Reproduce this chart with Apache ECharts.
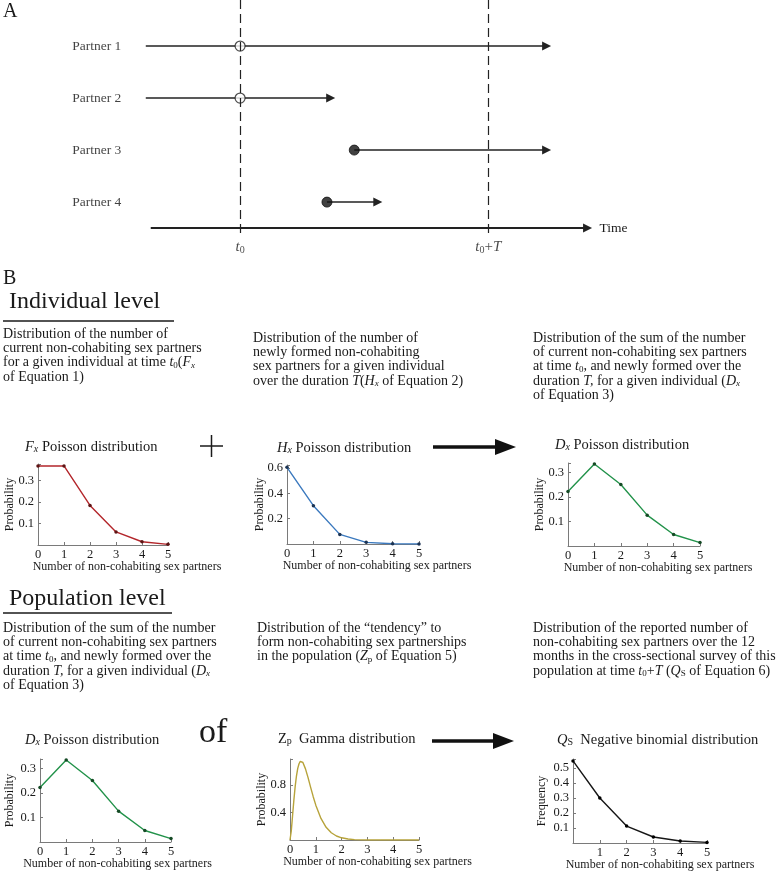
<!DOCTYPE html>
<html><head><meta charset="utf-8">
<script src="https://cdn.jsdelivr.net/npm/echarts@6/dist/echarts.min.js"></script>
<style>html,body{margin:0;padding:0;background:#fff}#c{width:780px;height:872px}</style>
</head><body><div id="c"></div>
<script>
// ---------------- DATA ----------------
const xCounts   = [0, 1, 2, 3, 4, 5];
const fxProb    = [0.368, 0.368, 0.184, 0.061, 0.015, 0.003];
const hxProb    = [0.607, 0.303, 0.076, 0.013, 0.002, 0.000];
const dxProb    = [0.223, 0.335, 0.251, 0.126, 0.047, 0.014];
const qsFreq    = [0.547, 0.300, 0.113, 0.040, 0.013, 0.004];
const zpX       = [0, 0.05, 0.1, 0.15, 0.2, 0.25, 0.3, 0.35, 0.4, 0.45, 0.5, 0.6, 0.7, 0.8, 0.9, 1.0, 1.2, 1.4, 1.6, 1.8, 2.0, 2.25, 2.5, 3.0, 3.5, 4.0, 4.5, 5.0];
const zpDensity = [0, 0.133, 0.356, 0.581, 0.778, 0.932, 1.044, 1.110, 1.147, 1.148, 1.129, 1.036, 0.908, 0.767, 0.631, 0.508, 0.314, 0.185, 0.106, 0.058, 0.032, 0.014, 0.006, 0.001, 0.0002, 0, 0, 0];
// timeline (time in units of T, t0 = 0)
const partnerNames  = ['Partner 1', 'Partner 2', 'Partner 3', 'Partner 4'];
const partnerStart  = [-0.38, -0.38, 0.46, 0.35];
const partnerEnd    = [1.235, 0.365, 1.235, 0.555];
const circleTime    = [0, 0, 0.46, 0.35];
const circleFilled  = [false, false, true, true];
const timeAxisRange = [-0.36, 1.40];
const markTimes     = [0, 1];
const markTickLabels = ['{it|t}{sub|0}', '{it|t}{sub|0}{n|+}{it|T}'];

// ---------------- STYLE ----------------
const SERIF = '"Liberation Serif","Times New Roman",Times,serif';
const INK = '#1a1a1a';
const LH = 14.3;
function richZ(size){
  return {
    it:{fontFamily:SERIF,fontSize:size,fontStyle:'italic',fill:INK,lineHeight:LH},
    sub:{fontFamily:SERIF,fontSize:Math.round(size*0.66),fill:INK,verticalAlign:'bottom',lineHeight:6},
    subit:{fontFamily:SERIF,fontSize:Math.round(size*0.66),fontStyle:'italic',fill:INK,verticalAlign:'bottom',lineHeight:6}
  };
}
const R14 = richZ(14);
function textBlock(x, yTop, str){
  return {type:'text', x:x, y:yTop, silent:true,
    style:{text:str, fontFamily:SERIF, fontSize:14, fill:INK, lineHeight:LH, align:'left', verticalAlign:'top', rich:R14}};
}
function titleText(x, yc, str){
  return {type:'text', x:x, y:yc, silent:true,
    style:{text:str, fontFamily:SERIF, fontSize:14.5, fill:INK, lineHeight:LH, align:'left', verticalAlign:'middle', rich:richZ(14.5)}};
}
function plainText(x, yc, str, size){
  return {type:'text', x:x, y:yc, silent:true,
    style:{text:str, fontFamily:SERIF, fontSize:size, fill:INK, align:'left', verticalAlign:'middle'}};
}
function bigArrow(x1, x2, y){
  return [
    {type:'line', silent:true, shape:{x1:x1, y1:y, x2:x2-18, y2:y}, style:{stroke:'#111', lineWidth:3.5}},
    {type:'polygon', silent:true, shape:{points:[[x2-21,y-8],[x2,y],[x2-21,y+8]]}, style:{fill:'#111'}}
  ];
}

const blocks = [
  textBlock(3, 327, 'Distribution of the number of\ncurrent non-cohabiting sex partners\nfor a given individual at time {it|t}{sub|0}({it|F}{subit|x}\nof Equation 1)'),
  textBlock(253, 331, 'Distribution of the number of\nnewly formed non-cohabiting\nsex partners for a given individual\nover the duration {it|T}({it|H}{subit|x} of Equation 2)'),
  textBlock(533, 331, 'Distribution of the sum of the number\nof current non-cohabiting sex partners\nat time {it|t}{sub|0}, and newly formed over the\nduration {it|T,} for a given individual ({it|D}{subit|x}\nof Equation 3)'),
  textBlock(3, 621, 'Distribution of the sum of the number\nof current non-cohabiting sex partners\nat time {it|t}{sub|0}, and newly formed over the\nduration {it|T,} for a given individual ({it|D}{subit|x}\nof Equation 3)'),
  textBlock(257, 621, 'Distribution of the \u201ctendency\u201d to\nform non-cohabiting sex partnerships\nin the population ({it|Z}{sub|p} of Equation 5)'),
  textBlock(533, 621, 'Distribution of the reported number of\nnon-cohabiting sex partners over the 12\nmonths in the cross-sectional survey of this\npopulation at time {it|t}{sub|0}+{it|T} ({it|Q}{sub|S} of Equation 6)')
];

const graphics = [].concat(
  [plainText(3, 12, 'A', 20), plainText(3, 279, 'B', 20),
   plainText(9, 302, 'Individual level', 24),
   {type:'line', silent:true, shape:{x1:3,y1:321,x2:174,y2:321}, style:{stroke:INK,lineWidth:1.3}},
   plainText(9, 599, 'Population level', 24),
   {type:'line', silent:true, shape:{x1:3,y1:613,x2:172,y2:613}, style:{stroke:INK,lineWidth:1.3}},
   {type:'line', silent:true, shape:{x1:200,y1:446,x2:223,y2:446}, style:{stroke:INK,lineWidth:1.5}},
   {type:'line', silent:true, shape:{x1:211.5,y1:435,x2:211.5,y2:457}, style:{stroke:INK,lineWidth:1.5}},
   plainText(199, 733, 'of', 34),
   titleText(25, 447, '{it|F}{subit|x} Poisson distribution'),
   titleText(277, 448, '{it|H}{subit|x} Poisson distribution'),
   titleText(555, 445, '{it|D}{subit|x} Poisson distribution'),
   titleText(25, 740, '{it|D}{subit|x} Poisson distribution'),
   titleText(278, 739, 'Z{sub|p}  Gamma distribution'),
   titleText(557, 740, '{it|Q}{sub|S}  Negative binomial distribution')
  ],
  blocks,
  bigArrow(433, 516, 447),
  bigArrow(432, 514, 741)
);

// ---------------- SMALL PLOTS ----------------
const plotDefs = [
  {g:[38,464,130,81],  yMax:0.377, yInt:0.1, yName:'Probability', gap:22, xs:xCounts, ys:fxProb,  color:'#b3262b', mark:'#5e1414', shift:24, hideX0:false},
  {g:[287,465,132,79], yMax:0.625, yInt:0.2, yName:'Probability', gap:21, xs:xCounts, ys:hxProb,  color:'#3b79be', mark:'#1b3354', shift:24, hideX0:false},
  {g:[568,463,132,83], yMax:0.339, yInt:0.1, yName:'Probability', gap:22, xs:xCounts, ys:dxProb,  color:'#22924a', mark:'#154a25', shift:24, hideX0:false},
  {g:[40,759,131,83],  yMax:0.339, yInt:0.1, yName:'Probability', gap:24, xs:xCounts, ys:dxProb,  color:'#22924a', mark:'#154a25', shift:12, hideX0:false},
  {g:[290,759,129,81], yMax:1.18,  yInt:0.4, yName:'Probability', gap:22, xs:zpX,     ys:zpDensity, color:'#b7a33b', mark:null,   shift:23, hideX0:false},
  {g:[573,759,134,84], yMax:0.56,  yInt:0.1, yName:'Frequency',   gap:25, xs:xCounts, ys:qsFreq,  color:'#161616', mark:'#000',    shift:20, hideX0:true}
];

function tickFormatter(interval, hideZero){
  return function(v){
    const q = v / interval;
    if (Math.abs(q - Math.round(q)) > 1e-6) return '';
    if (hideZero && Math.abs(v) < 1e-9) return '';
    return String(+v.toFixed(2));
  };
}

const AX = '#7a7a7a';
const grids = [{left:116, top:0, width:546, height:238, containLabel:false, outerBoundsMode:'none'}];
const xAxes = [{type:'value', gridIndex:0, min:-0.5, max:1.7, show:false}];
const yAxes = [{type:'value', gridIndex:0, min:0.115, max:4.69, inverse:true, show:false}];
const series = [];

plotDefs.forEach((p, k) => {
  const gi = k + 1;
  grids.push({left:p.g[0], top:p.g[1], width:p.g[2], height:p.g[3], containLabel:false, outerBoundsMode:'none'});
  xAxes.push({type:'value', gridIndex:gi, min:0, max:5, interval:1,
    name:'Number of non-cohabiting sex partners', nameLocation:'middle', nameGap:16, nameMoveOverlap:false,
    nameTextStyle:{fontFamily:SERIF, fontSize:12, color:INK, padding:[0,0,0,2*p.shift]},
    axisLine:{show:true, onZero:false, lineStyle:{color:AX, width:1}},
    axisTick:{show:true, inside:true, length:3, lineStyle:{color:AX}},
    axisLabel:{fontFamily:SERIF, fontSize:12.5, color:INK, margin:3, showMinLabel:true, showMaxLabel:true,
      formatter: tickFormatter(1, p.hideX0)},
    splitLine:{show:false}});
  yAxes.push({type:'value', gridIndex:gi, min:0, max:p.yMax, interval:p.yInt,
    name:p.yName, nameLocation:'middle', nameGap:p.gap, nameMoveOverlap:false,
    nameTextStyle:{fontFamily:SERIF, fontSize:12, color:INK},
    axisLine:{show:true, onZero:false, lineStyle:{color:AX, width:1}},
    axisTick:{show:true, inside:true, length:3, lineStyle:{color:AX}},
    axisLabel:{fontFamily:SERIF, fontSize:12.5, color:INK, margin:4, formatter: tickFormatter(p.yInt, true)},
    splitLine:{show:false}});
  series.push({type:'line', xAxisIndex:gi, yAxisIndex:gi,
    data: p.xs.map((x, i) => [x, p.ys[i]]),
    smooth:false,
    showSymbol: !!p.mark, symbol:'circle', symbolSize:3.5,
    itemStyle:{color: p.mark || p.color},
    lineStyle:{color:p.color, width:1.4}, silent:true, z:3});
});

// ---------------- TIMELINE (panel A) ----------------
const linesData = partnerNames.map((n, i) => ({coords:[[partnerStart[i], i+1],[partnerEnd[i], i+1]]}));
linesData.push({coords:[[timeAxisRange[0], 4.5],[timeAxisRange[1], 4.5]], lineStyle:{width:2.2},
  label:{show:true, position:'end', distance:12, formatter:'Time', fontFamily:SERIF, fontSize:13.5, color:INK, align:'left', verticalAlign:'middle', padding:[0,0,6,0]}});
series.push({type:'lines', coordinateSystem:'cartesian2d', xAxisIndex:0, yAxisIndex:0,
  symbol:['none','triangle'], symbolSize:[0,9],
  lineStyle:{color:'#222', width:1.6, opacity:1, curveness:0},
  label:{show:false}, data:linesData, silent:true, z:2});
series.push({type:'scatter', xAxisIndex:0, yAxisIndex:0, symbol:'circle', symbolSize:10,
  data: partnerNames.map((n, i) => ({value:[circleTime[i], i+1],
    itemStyle: circleFilled[i] ? {color:'#111', borderColor:'#111', borderWidth:1} : {color:'#fff', borderColor:'#222', borderWidth:1.2}})),
  silent:true, z:4});
series.push({type:'scatter', xAxisIndex:0, yAxisIndex:0, symbolSize:1, itemStyle:{color:'rgba(0,0,0,0)'},
  data: partnerNames.map((n, i) => ({value:[partnerStart[0], i+1], name:n})),
  label:{show:true, position:'left', distance:24, formatter:'{b}', fontFamily:SERIF, fontSize:13.5, color:'#111'},
  silent:true, z:4});
series.push({type:'scatter', xAxisIndex:0, yAxisIndex:0, symbolSize:1, itemStyle:{color:'rgba(0,0,0,0)'},
  data: markTimes.map((t, i) => ({value:[t, 4.69], label:{formatter: markTickLabels[i]}})),
  label:{show:true, position:'bottom', distance:1, fontFamily:SERIF, fontSize:15, color:INK, lineHeight:16,
    rich:{it:{fontFamily:SERIF,fontSize:15,fontStyle:'italic',color:INK,lineHeight:16},
          n:{fontFamily:SERIF,fontSize:15,color:INK,lineHeight:16},
          sub:{fontFamily:SERIF,fontSize:10,color:INK,verticalAlign:'bottom',lineHeight:6}}},
  markLine:{silent:true, symbol:['none','none'], label:{show:false},
    lineStyle:{color:'#222', type:[9,5], width:1.2},
    data: markTimes.map(t => ({xAxis:t}))},
  silent:true, z:1});

const chart = echarts.init(document.getElementById('c'), null, {renderer:'canvas'});
chart.setOption({
  animation:false, backgroundColor:'#fff',
  grid:grids, xAxis:xAxes, yAxis:yAxes, series:series, graphic:graphics
});
</script></body></html>
